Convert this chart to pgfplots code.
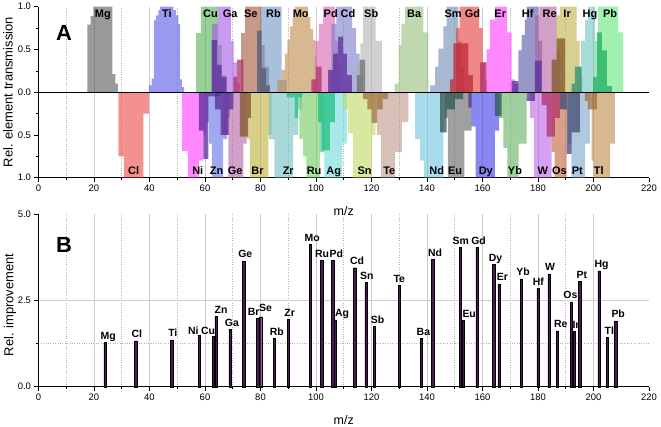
\documentclass[border=0pt]{standalone}
\usepackage{fontspec}
\setmainfont{Liberation Sans}
\usepackage{pgfplots}
\pgfplotsset{compat=1.18}
% element colours (blended with opacity 0.6 on white)
\definecolor{cMg}{RGB}{87,87,87}
\definecolor{cTi}{RGB}{87,87,230}
\definecolor{cCl}{RGB}{238,70,70}
\definecolor{cNi}{RGB}{255,57,255}
\definecolor{cCu}{RGB}{83,177,83}
\definecolor{cGa}{RGB}{163,87,230}
\definecolor{cZn}{RGB}{97,110,230}
\definecolor{cGe}{RGB}{177,97,163}
\definecolor{cSe}{RGB}{163,83,57}
\definecolor{cBr}{RGB}{190,177,57}
\definecolor{cRb}{RGB}{110,150,197}
\definecolor{cZr}{RGB}{110,190,190}
\definecolor{cMo}{RGB}{190,137,70}
\definecolor{cRu}{RGB}{110,203,97}
\definecolor{cPd}{RGB}{217,97,177}
\definecolor{cAg}{RGB}{110,217,217}
\definecolor{cCd}{RGB}{123,123,203}
\definecolor{cSn}{RGB}{190,217,97}
\definecolor{cSb}{RGB}{177,177,177}
\definecolor{cTe}{RGB}{190,150,137}
\definecolor{cBa}{RGB}{150,190,123}
\definecolor{cNd}{RGB}{110,197,223}
\definecolor{cSm}{RGB}{110,137,177}
\definecolor{cEu}{RGB}{97,97,97}
\definecolor{cGd}{RGB}{230,57,57}
\definecolor{cDy}{RGB}{57,57,230}
\definecolor{cEr}{RGB}{255,57,255}
\definecolor{cYb}{RGB}{97,177,97}
\definecolor{cHf}{RGB}{83,83,163}
\definecolor{cW}{RGB}{190,97,230}
\definecolor{cRe}{RGB}{177,97,163}
\definecolor{cOs}{RGB}{190,97,57}
\definecolor{cIr}{RGB}{190,177,70}
\definecolor{cPt}{RGB}{123,163,203}
\definecolor{cHg}{RGB}{110,197,190}
\definecolor{cTl}{RGB}{190,137,70}
\definecolor{cPb}{RGB}{97,230,123}
% inner (darker) shapes
\definecolor{iPurple}{RGB}{90,45,154}
\definecolor{iCrimson}{RGB}{176,48,106}
\definecolor{iSlate}{RGB}{80,90,120}
\definecolor{iBrown}{RGB}{128,85,42}
\definecolor{iGreen}{RGB}{32,192,128}
\definecolor{iTeal}{RGB}{47,85,80}
\definecolor{iRed}{RGB}{192,40,56}
\definecolor{iDGreen}{RGB}{32,176,96}
\definecolor{iHg}{RGB}{42,144,112}
\definecolor{iSlate2}{RGB}{64,72,112}
\definecolor{iTan}{RGB}{160,112,64}
\definecolor{iGrey}{RGB}{112,112,112}
\definecolor{barc}{RGB}{75,25,85}
\tikzset{
  alab/.style={font=\fontsize{11}{12}\selectfont\bfseries, anchor=base, inner sep=0pt},
  blab/.style={font=\fontsize{10.5}{12}\selectfont\bfseries, anchor=base, inner sep=0pt, yshift=3bp},
}
\pgfplotsset{
  el/.style={const plot, draw=none, fill=#1, fill opacity=0.6, forget plot},
  inn/.style={const plot, draw=none, fill=#1, fill opacity=0.75, forget plot},
  common/.style={scale only axis, width=610.5bp, xmin=0, xmax=220,
    xtick={0,20,...,200}, minor x tick num=1,
    extra x ticks={220}, extra x tick style={grid=none},
    axis lines*=left, axis line style={-, line width=0.8pt},
    tick align=outside, major tick length=4bp, minor tick length=2.5bp,
    tick style={black, line width=0.6pt},
    xmajorgrids, xminorgrids,
    major grid style={gray!40, line width=0.8pt},
    minor grid style={gray!60, dotted, line width=0.6pt},
    ticklabel style={font=\fontsize{9.5}{11}\selectfont},
    /pgf/number format/assume math mode=true,
    clip=false},
}
\begin{document}
\begin{tikzpicture}
\useasboundingbox (0,0) rectangle (661bp,-427bp);
% ---------------- Panel A ----------------
\begin{axis}[common, at={(38.5bp,-6.7bp)}, anchor=north west, height=171bp,
  ymin=-1, ymax=1, ytick={-1,-0.5,0,0.5,1}, yticklabels={1.0,0.5,0.0,0.5,1.0},
  minor y tick num=1]
% upper elements
\addplot[el=cMg] coordinates {(17.6,0)(17.6,0.79)(18.8,0.89)(19.8,1)(26.6,0.21)(27.7,0.1)(28.6,0)} -- cycle;
\addplot[el=cTi] coordinates {(39.8,0)(39.8,0.08)(40.8,0.16)(41.6,0.84)(42.3,0.9)(43.2,0.96)(43.8,1)(48.6,0.96)(49.5,0.9)(50.4,0.8)(51.0,0.15)(51.7,0.06)(52.5,0)} -- cycle;
\addplot[el=cCu] coordinates {(56.8,0)(56.8,0.69)(58.5,1)(64.6,0.55)(66,0.2)(67.5,0)} -- cycle;
\addplot[el=cGa] coordinates {(62.6,0)(62.6,0.8)(64.6,1)(69.3,0.6)(70.3,0.35)(71.5,0.1)(72.5,0)} -- cycle;
\addplot[el=cSe] coordinates {(73,0)(73,0.69)(74.5,1)(80.3,0.55)(81.5,0.3)(83,0)} -- cycle;
\addplot[el=cRb] coordinates {(80.2,0)(80.2,1)(87.6,0.14)(89.4,0)} -- cycle;
\addplot[el=cMo] coordinates {(86.1,0)(86.1,0.14)(87.6,0.26)(88.8,0.45)(89.7,0.61)(90.6,0.77)(91.6,0.88)(92.4,1)(97.2,0.88)(98.0,0.74)(99.0,0.61)(99.6,0.41)(100.2,0)} -- cycle;
\addplot[el=cPd] coordinates {(99.6,0)(99.6,0.6)(101,0.8)(102.6,1)(106.8,0.6)(108,0.3)(109,0)} -- cycle;
\addplot[el=cCd] coordinates {(105.5,0)(105.5,0.8)(107.3,1)(113.0,0.75)(114.5,0.45)(115.7,0.2)(117,0)} -- cycle;
\addplot[el=cSb] coordinates {(114.5,0)(114.5,0.35)(116,0.57)(117,1)(121.5,0.6)(123.7,0)} -- cycle;
\addplot[el=cBa] coordinates {(128.3,0)(128.3,0.1)(129.8,0.55)(130.8,0.8)(132.1,1)(138.7,0.7)(140.5,0)} -- cycle;
\addplot[el=cSm] coordinates {(141.1,0)(141.1,0.08)(142.9,0.3)(144.1,0.51)(145.9,0.77)(147.1,1)(151.3,0.6)(152.5,0.3)(153.5,0)} -- cycle;
\addplot[el=cGd] coordinates {(150.5,0)(150.5,0.75)(151.8,1)(158.8,0.75)(160,0.35)(161,0)} -- cycle;
\addplot[el=cEr] coordinates {(161,0)(161,0.15)(161.5,0.5)(162.7,0.85)(164.5,1)(168.9,0.7)(170.5,0.15)(171.7,0)} -- cycle;
\addplot[el=cHf] coordinates {(171.7,0)(171.7,0.1)(172.9,0.49)(174.1,0.67)(175.3,0.85)(175.9,1)(180.1,0.6)(181.5,0)} -- cycle;
\addplot[el=cRe] coordinates {(179,0)(179,0.9)(180.5,1)(186.7,0.5)(188,0)} -- cycle;
\addplot[el=cIr] coordinates {(186.5,0)(186.5,0.9)(187.9,1)(193.9,0.6)(195,0.2)(196,0)} -- cycle;
\addplot[el=cHg] coordinates {(194.5,0)(194.5,0.3)(195.5,0.6)(197,0.85)(198.1,1)(200.5,0)} -- cycle;
\addplot[el=cPb] coordinates {(200.5,0)(200.5,0.6)(201.7,1)(208.9,0.7)(210.7,0)} -- cycle;
% lower elements
\addplot[el=cCl] coordinates {(28.8,0)(28.8,-0.75)(30.9,-1)(37.8,-0.25)(39.8,0)} -- cycle;
\addplot[el=cNi] coordinates {(51.8,0)(51.8,-0.69)(53.8,-1)(57.8,-0.8)(59.4,-0.5)(60.5,0)} -- cycle;
\addplot[el=cZn] coordinates {(60.3,0)(60.3,-0.35)(61.5,-0.6)(62.5,-1)(66.5,-0.55)(68,-0.3)(69,0)} -- cycle;
\addplot[el=cGe] coordinates {(66.5,0)(66.5,-0.5)(68.4,-1)(73.8,-0.6)(75,0)} -- cycle;
\addplot[el=cBr] coordinates {(75,0)(75,-0.55)(76.2,-1)(82.8,-0.5)(84,0)} -- cycle;
\addplot[el=cZr] coordinates {(83,0)(83,-0.55)(85,-1)(91.8,-0.5)(93.6,-0.2)(95,0)} -- cycle;
\addplot[el=cRu] coordinates {(94,0)(94,-0.55)(95.4,-0.75)(96.5,-1)(101.5,-0.7)(103,0)} -- cycle;
\addplot[el=cAg] coordinates {(101.4,0)(101.4,-0.7)(103,-1)(109.5,-0.6)(111.1,0)} -- cycle;
\addplot[el=cSn] coordinates {(109.8,0)(109.8,-0.2)(111.6,-0.48)(113.4,-1)(120.1,-0.5)(121.5,0)} -- cycle;
\addplot[el=cTe] coordinates {(121.9,0)(121.9,-0.5)(123.5,-1)(128.5,-0.7)(130.9,-0.35)(133.3,0)} -- cycle;
\addplot[el=cNd] coordinates {(135.7,0)(135.7,-0.55)(137.5,-0.8)(139,-1)(145.9,0)} -- cycle;
\addplot[el=cEu] coordinates {(146.3,0)(146.3,-0.3)(147.5,-1)(153.5,-0.45)(156.1,0)} -- cycle;
\addplot[el=cDy] coordinates {(156,0)(156,-0.4)(157.5,-1)(164.5,-0.45)(166,0)} -- cycle;
\addplot[el=cYb] coordinates {(165.7,0)(165.7,-0.3)(167.5,-0.65)(169,-1)(173,-0.6)(175.9,0)} -- cycle;
\addplot[el=cW] coordinates {(177.1,0)(177.1,-0.3)(178.5,-1)(184.9,0)} -- cycle;
\addplot[el=cOs] coordinates {(184.9,0)(184.9,-0.7)(186,-1)(190.3,0)} -- cycle;
\addplot[el=cPt] coordinates {(190.9,0)(190.9,-0.6)(192,-1)(197,-0.6)(198.7,0)} -- cycle;
\addplot[el=cTl] coordinates {(199.3,0)(199.3,-0.8)(200,-1)(206,-0.6)(207.7,0)} -- cycle;
% inner darker shapes, upper
\addplot[inn=iPurple] coordinates {(62.4,0)(62.4,0.61)(64.4,0.32)(66,0.18)(67.8,0)} -- cycle;
\addplot[inn=iCrimson] coordinates {(70.2,0)(70.2,0.18)(71.6,0.38)(73.8,0)} -- cycle;
\addplot[inn=iSlate] coordinates {(78.8,0)(78.8,0.72)(80.4,0.28)(82.0,0.08)(83.4,0)} -- cycle;
\addplot[inn=iCrimson] coordinates {(98.3,0)(98.3,0.15)(100,0.3)(102,0)} -- cycle;
\addplot[inn=iPurple] coordinates {(104.4,0)(104.4,0.26)(106.2,0.45)(108,0.65)(109.8,0.45)(111.1,0.2)(112.9,0)} -- cycle;
\addplot[inn=iGrey] coordinates {(114.7,0)(114.7,0.2)(115.7,0.38)(117.7,0)} -- cycle;
\addplot[inn=iRed] coordinates {(148.3,0)(148.3,0.15)(149.5,0.57)(154.9,0.2)(156.5,0)} -- cycle;
\addplot[inn=iCrimson] coordinates {(159.1,0)(159.1,0.35)(161.5,0)} -- cycle;
\addplot[inn=iPurple] coordinates {(170.5,0)(170.5,0.13)(172.9,0)} -- cycle;
\addplot[inn=iPurple] coordinates {(178.9,0)(178.9,0.37)(181.3,0)} -- cycle;
\addplot[inn=iBrown] coordinates {(184.9,0)(184.9,0.38)(186.7,0.63)(189.7,0)} -- cycle;
\addplot[inn=iHg] coordinates {(192.1,0)(192.1,0.1)(193.3,0.3)(195.7,0)} -- cycle;
\addplot[inn=iDGreen] coordinates {(199.9,0)(199.9,0.18)(201.2,0.7)(203.0,0.49)(204.8,0.07)(206.6,0)} -- cycle;
% inner darker shapes, lower
\addplot[inn=iPurple] coordinates {(57.8,0)(57.8,-0.45)(59.4,-0.78)(61.2,-0.05)(65.5,0)} -- cycle;
\addplot[inn=iPurple] coordinates {(63.6,0)(63.6,-0.2)(65.6,-0.5)(68.5,-0.2)(70.2,0)} -- cycle;
\addplot[inn=iBrown] coordinates {(72.6,0)(72.6,-0.52)(75.5,-0.3)(76.5,0)} -- cycle;
\addplot[inn=iGreen] coordinates {(89.4,0)(89.4,-0.06)(92.4,-0.3)(93.6,-0.06)(95,0)} -- cycle;
\addplot[inn=iGreen] coordinates {(100.8,0)(100.8,-0.35)(102,-0.68)(105,-0.35)(106.8,0)} -- cycle;
\addplot[inn=iTan] coordinates {(117,0)(117,-0.08)(118.5,-0.2)(120,-0.36)(122,-0.2)(124,-0.08)(126,0)} -- cycle;
\addplot[inn=iTeal] coordinates {(144.7,0)(144.7,-0.47)(147.1,-0.2)(150,-0.08)(153,0)} -- cycle;
\addplot[inn=iPurple] coordinates {(154.9,0)(154.9,-0.18)(156.1,0)} -- cycle;
\addplot[inn=iTeal] coordinates {(164.5,0)(164.5,-0.28)(166.9,0)} -- cycle;
\addplot[inn=iPurple] coordinates {(175.9,0)(175.9,-0.1)(178.9,0)} -- cycle;
\addplot[inn=iCrimson] coordinates {(181.3,0)(181.3,-0.15)(183.1,-0.52)(186.1,-0.3)(187.9,0)} -- cycle;
\addplot[inn=iSlate2] coordinates {(187.9,0)(187.9,-0.2)(190.3,-0.72)(192.1,-0.47)(195.1,0)} -- cycle;
\addplot[inn=iTan] coordinates {(196.9,0)(196.9,-0.1)(198,-0.2)(201.2,0)} -- cycle;
% zero line
\addplot[black, line width=1pt, forget plot] coordinates {(0,0)(220,0)};
% labels upper
\node[alab] at (axis cs:23.2,0.877) {Mg};
\node[alab] at (axis cs:46.3,0.877) {Ti};
\node[alab] at (axis cs:62,0.877) {Cu};
\node[alab] at (axis cs:69.1,0.877) {Ga};
\node[alab] at (axis cs:76.5,0.877) {Se};
\node[alab] at (axis cs:84.7,0.877) {Rb};
\node[alab] at (axis cs:94.5,0.877) {Mo};
\node[alab] at (axis cs:105.3,0.877) {Pd};
\node[alab] at (axis cs:111.5,0.877) {Cd};
\node[alab] at (axis cs:119.9,0.877) {Sb};
\node[alab] at (axis cs:135.4,0.877) {Ba};
\node[alab] at (axis cs:149.4,0.877) {Sm};
\node[alab] at (axis cs:156.4,0.877) {Gd};
\node[alab] at (axis cs:166.4,0.877) {Er};
\node[alab] at (axis cs:176.3,0.877) {Hf};
\node[alab] at (axis cs:184.2,0.877) {Re};
\node[alab] at (axis cs:190.5,0.877) {Ir};
\node[alab] at (axis cs:198.7,0.877) {Hg};
\node[alab] at (axis cs:206,0.877) {Pb};
% labels lower
\node[alab] at (axis cs:34.3,-0.965) {Cl};
\node[alab] at (axis cs:57.4,-0.965) {Ni};
\node[alab] at (axis cs:64.2,-0.965) {Zn};
\node[alab] at (axis cs:70.9,-0.965) {Ge};
\node[alab] at (axis cs:78.9,-0.965) {Br};
\node[alab] at (axis cs:90,-0.965) {Zr};
\node[alab] at (axis cs:99.3,-0.965) {Ru};
\node[alab] at (axis cs:106.4,-0.965) {Ag};
\node[alab] at (axis cs:117.5,-0.965) {Sn};
\node[alab] at (axis cs:126.4,-0.965) {Te};
\node[alab] at (axis cs:143.5,-0.965) {Nd};
\node[alab] at (axis cs:150.1,-0.965) {Eu};
\node[alab] at (axis cs:161.2,-0.965) {Dy};
\node[alab] at (axis cs:171.7,-0.965) {Yb};
\node[alab] at (axis cs:181.7,-0.965) {W};
\node[alab] at (axis cs:187.7,-0.965) {Os};
\node[alab] at (axis cs:194.2,-0.965) {Pt};
\node[alab] at (axis cs:201.9,-0.965) {Tl};
\end{axis}
% ---------------- Panel B ----------------
\begin{axis}[common, at={(38.5bp,-214.3bp)}, anchor=north west, height=172.4bp,
  ymin=0, ymax=5, ytick={0,2.5}, yticklabels={0.0,2.5},
  extra y ticks={5}, extra y tick labels={5.0}, extra y tick style={grid=none},
  minor y tick num=1, ymajorgrids, yminorgrids]
\addplot[ybar, bar width=2.4bp, fill=barc, draw=black, line width=0.4pt] coordinates {
(24,1.29)(35,1.33)(48,1.36)(58,1.48)(63,1.46)(64,2.04)(69,1.67)(74,3.65)(79,1.98)(80,2.03)
(85,1.41)(90,1.95)(98,4.12)(102,3.67)(106,3.67)(107,1.94)(114,3.45)(118,3.02)(121,1.76)
(130,2.94)(138,1.41)(142,3.69)(152,4.04)(153,1.93)(158,4.04)(164,3.55)(166,2.98)(174,3.13)
(180,2.85)(184,3.27)(187,1.62)(192,2.46)(193,1.6)(195,3.06)(202,3.36)(205,1.43)(208,1.91)};
\node[blab] at (axis cs:25.1,1.29) {Mg};
\node[blab] at (axis cs:35.4,1.33) {Cl};
\node[blab] at (axis cs:48.4,1.36) {Ti};
\node[blab] at (axis cs:55.8,1.43) {Ni};
\node[blab] at (axis cs:61.1,1.43) {Cu};
\node[blab] at (axis cs:65.8,2.04) {Zn};
\node[blab] at (axis cs:69.7,1.67) {Ga};
\node[blab] at (axis cs:74.5,3.65) {Ge};
\node[blab] at (axis cs:77.5,1.98) {Br};
\node[blab] at (axis cs:81.8,2.08) {Se};
\node[blab] at (axis cs:85.9,1.41) {Rb};
\node[blab] at (axis cs:90.5,1.95) {Zr};
\node[blab] at (axis cs:98.6,4.12) {Mo};
\node[blab] at (axis cs:102.2,3.67) {Ru};
\node[blab] at (axis cs:107.3,3.67) {Pd};
\node[blab] at (axis cs:109.4,1.94) {Ag};
\node[blab] at (axis cs:114.8,3.45) {Cd};
\node[blab] at (axis cs:118.3,3.02) {Sn};
\node[blab] at (axis cs:122.2,1.76) {Sb};
\node[blab] at (axis cs:130,2.94) {Te};
\node[blab] at (axis cs:138.7,1.41) {Ba};
\node[blab] at (axis cs:142.9,3.69) {Nd};
\node[blab] at (axis cs:152.2,4.04) {Sm};
\node[blab] at (axis cs:155.2,1.93) {Eu};
\node[blab] at (axis cs:158.6,4.04) {Gd};
\node[blab] at (axis cs:164.7,3.55) {Dy};
\node[blab] at (axis cs:167.2,2.98) {Er};
\node[blab] at (axis cs:174.6,3.13) {Yb};
\node[blab] at (axis cs:180.1,2.85) {Hf};
\node[blab] at (axis cs:184.3,3.27) {W};
\node[blab] at (axis cs:188.2,1.62) {Re};
\node[blab] at (axis cs:191.7,2.46) {Os};
\node[blab] at (axis cs:193.7,1.6) {Ir};
\node[blab] at (axis cs:195.8,3.06) {Pt};
\node[blab] at (axis cs:202.9,3.36) {Hg};
\node[blab] at (axis cs:205.7,1.43) {Tl};
\node[blab] at (axis cs:208.9,1.91) {Pb};
\end{axis}
% axis titles and panel letters
\node[rotate=90, font=\fontsize{13}{15}\selectfont] at (8bp,-92.2bp) {Rel. element transmission};
\node[rotate=90, font=\fontsize{13}{15}\selectfont] at (10bp,-305bp) {Rel. improvement};
\node[font=\fontsize{12.5}{14}\selectfont] at (343.7bp,-211bp) {m/z};
\node[font=\fontsize{12.5}{14}\selectfont] at (343.7bp,-420bp) {m/z};
\node[font=\fontsize{22}{24}\selectfont\bfseries] at (64bp,-33bp) {A};
\node[font=\fontsize{22}{24}\selectfont\bfseries] at (64bp,-245bp) {B};
\end{tikzpicture}
\end{document}
